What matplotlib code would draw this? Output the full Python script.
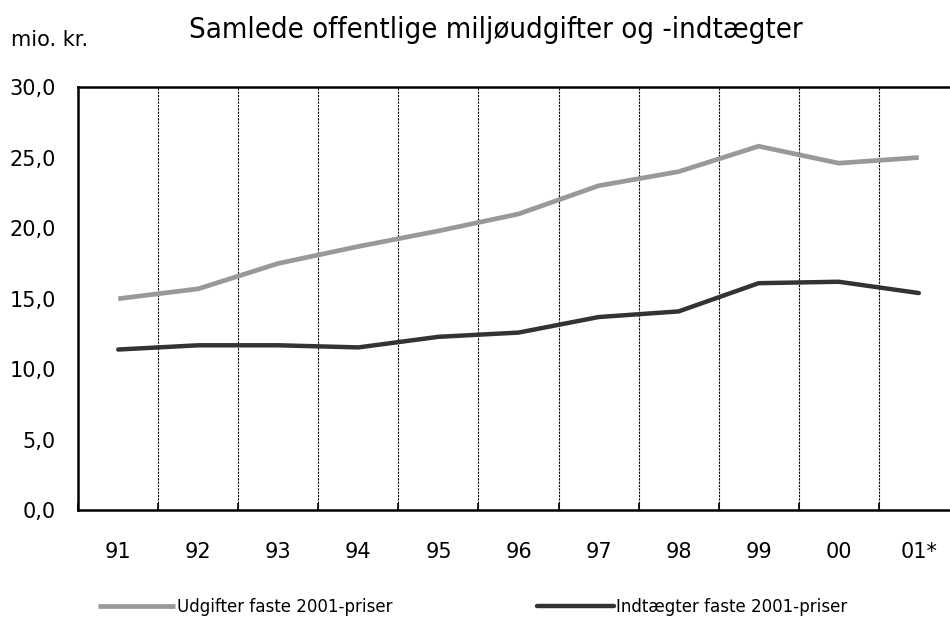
import matplotlib
matplotlib.use("Agg")
import matplotlib.pyplot as plt
import numpy as np

years = ["91", "92", "93", "94", "95", "96", "97", "98", "99", "00", "01*"]
udgifter = [15.0, 15.7, 17.5, 18.7, 19.8, 21.0, 23.0, 24.0, 25.8, 24.6, 25.0]
indtaegter = [11.4, 11.7, 11.7, 11.55, 12.3, 12.6, 13.7, 14.1, 16.1, 16.2, 15.4]
yticks = [0, 5, 10, 15, 20, 25, 30]

plt.rcParams["font.family"] = ["DejaVu Sans"]

fig = plt.figure(figsize=(9.5, 6.21), dpi=100)
ax = fig.add_axes([0.0823, 0.178, 0.927, 0.682])

x = np.arange(len(years))
ax.plot(x, udgifter, color="#999999", lw=3.4, solid_capstyle="butt",
        solid_joinstyle="miter", label="Udgifter faste 2001-priser")
ax.plot(x, indtaegter, color="#333333", lw=3.2, solid_capstyle="round",
        label="Indtægter faste 2001-priser")

ax.set_xlim(-0.5, len(years) - 0.5)
ax.set_ylim(0, 30)
ax.set_yticks(yticks)
ax.set_yticklabels([f"{v:.1f}".replace(".", ",") for v in yticks], fontsize=15)
ax.set_xticks(x)
ax.set_xticklabels(years, fontsize=15)
ax.set_xticks(np.arange(len(years) + 1) - 0.5, minor=True)
ax.tick_params(axis="x", which="major", length=0, pad=23)
ax.tick_params(axis="x", which="minor", direction="in", length=5, width=1.2)
ax.tick_params(axis="y", length=0, pad=16)
ax.grid(True, axis="x", which="minor", color="black", linestyle=(0, (2, 1)), lw=0.8)
for s in ["left", "bottom", "top"]:
    ax.spines[s].set_linewidth(1.8)
ax.spines["right"].set_visible(False)

fig.text(0.522, 0.952, "Samlede offentlige miljøudgifter og -indtægter",
         ha="center", va="center", fontsize=21, fontstretch="condensed")
fig.text(0.012, 0.935, "mio. kr.", ha="left", va="center", fontsize=15)

fig.legend(loc="center left", bbox_to_anchor=(0.095, 0.022), ncol=2, frameon=False,
           prop={"size": 13.3, "stretch": "condensed"}, handlelength=4.2,
           handletextpad=0.1, columnspacing=7.8, borderaxespad=0)

fig.savefig("out.png", dpi=100)
